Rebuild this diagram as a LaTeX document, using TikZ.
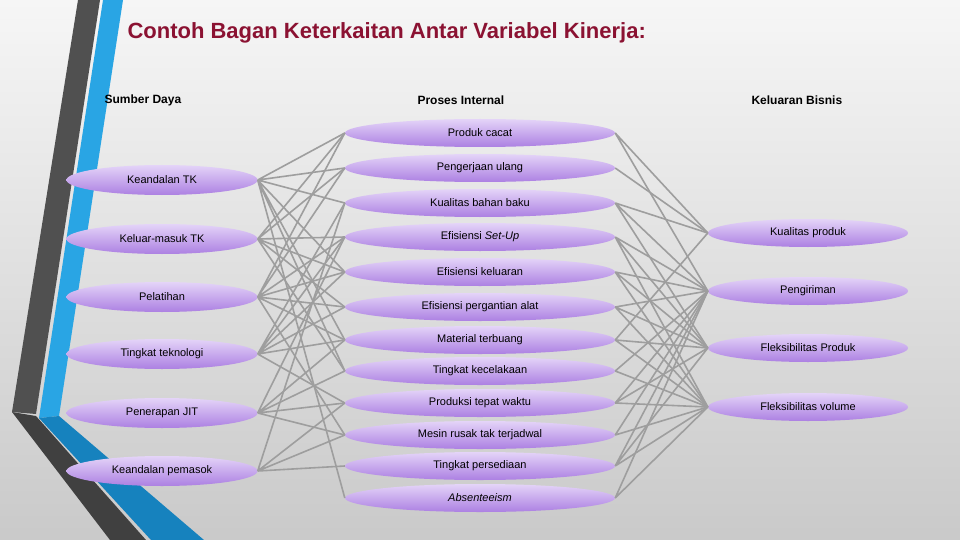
\documentclass[tikz,border=0pt]{standalone}
\usepackage{fontspec}
\setmainfont{Liberation Sans}
\usepackage{tikz}
\usetikzlibrary{shapes.geometric}
\definecolor{judul}{RGB}{139,18,50}
\definecolor{ungumuda}{RGB}{228,212,248}
\definecolor{ungutua}{RGB}{172,128,226}
\definecolor{garis}{RGB}{158,158,158}
\definecolor{abutua}{RGB}{80,80,80}
\definecolor{birumuda}{RGB}{41,165,228}
\definecolor{birutua}{RGB}{22,130,190}
\tikzstyle{sumber} = [ellipse, minimum width=191pt, minimum height=30pt, inner sep=0pt, top color=ungumuda, bottom color=ungutua, font=\fontsize{11}{13}\selectfont]
\tikzstyle{proses} = [ellipse, minimum width=270pt, minimum height=28pt, inner sep=0pt, top color=ungumuda, bottom color=ungutua, font=\fontsize{11}{13}\selectfont]
\tikzstyle{keluaran} = [ellipse, minimum width=200pt, minimum height=28pt, inner sep=0pt, top color=ungumuda, bottom color=ungutua, font=\fontsize{11}{13}\selectfont]
\tikzstyle{kepala} = [anchor=west, font=\bfseries\fontsize{12}{14}\selectfont]
\tikzstyle{link} = [draw=garis, line width=1.6pt]

\begin{document}
\begin{tikzpicture}[x=1pt, y=-1pt]
\useasboundingbox (0,0) rectangle (960,540);

%% BACKGROUND

\shade [top color=white!93!gray, bottom color=gray!42] (0,0) rectangle (960,540);
\fill [abutua] (78,0) -- (100,0) -- (36,414) -- (12,412) -- cycle;
\fill [abutua!80!black] (12,412) -- (36,416) -- (146,540) -- (110,540) -- cycle;
\fill [birumuda] (103,0) -- (123,0) -- (59,416) -- (39,418) -- cycle;
\fill [birutua] (39,418) -- (59,416) -- (204,540) -- (151,540) -- cycle;

%% TITLE AND HEADERS

\node (judul) [anchor=west, text=judul, font=\bfseries\fontsize{22}{26}\selectfont] at (124,33) {Contoh Bagan Keterkaitan Antar Variabel Kinerja:};
\node (h1) [kepala] at (101,100) {Sumber Daya};
\node (h2) [kepala] at (414,100) {Proses Internal};
\node (h3) [kepala] at (748,100) {Keluaran Bisnis};

%% NODES

\node (sd1) [sumber] at (162,180) {Keandalan TK};
\node (sd2) [sumber, below of=sd1, node distance=59pt] {Keluar-masuk TK};
\node (sd3) [sumber, below of=sd2, node distance=58pt] {Pelatihan};
\node (sd4) [sumber, below of=sd3, node distance=57pt] {Tingkat teknologi};
\node (sd5) [sumber, below of=sd4, node distance=59pt] {Penerapan JIT};
\node (sd6) [sumber, below of=sd5, node distance=58pt] {Keandalan pemasok};

\node (pi1) [proses] at (480,133) {Produk cacat};
\node (pi2) [proses, below of=pi1, node distance=35pt] {Pengerjaan ulang};
\node (pi3) [proses, below of=pi2, node distance=35pt] {Kualitas bahan baku};
\node (pi4) [proses, below of=pi3, node distance=34pt] {Efisiensi \textit{Set-Up}};
\node (pi5) [proses, below of=pi4, node distance=35pt] {Efisiensi keluaran};
\node (pi6) [proses, below of=pi5, node distance=35pt] {Efisiensi pergantian alat};
\node (pi7) [proses, below of=pi6, node distance=33pt] {Material terbuang};
\node (pi8) [proses, below of=pi7, node distance=31pt] {Tingkat kecelakaan};
\node (pi9) [proses, below of=pi8, node distance=32pt] {Produksi tepat waktu};
\node (pi10) [proses, below of=pi9, node distance=32pt] {Mesin rusak tak terjadwal};
\node (pi11) [proses, below of=pi10, node distance=31pt] {Tingkat persediaan};
\node (pi12) [proses, below of=pi11, node distance=32pt] {\textit{Absenteeism}};

\node (kb1) [keluaran] at (808,233) {Kualitas produk};
\node (kb2) [keluaran, below of=kb1, node distance=58pt] {Pengiriman};
\node (kb3) [keluaran, below of=kb2, node distance=57pt] {Fleksibilitas Produk};
\node (kb4) [keluaran, below of=kb3, node distance=59pt] {Fleksibilitas volume};

%% LINKS

\draw [link] (sd1.east) -- (pi1.west) (sd1.east) -- (pi2.west) (sd1.east) -- (pi3.west) (sd1.east) -- (pi5.west) (sd1.east) -- (pi7.west) (sd1.east) -- (pi8.west) (sd1.east) -- (pi12.west);
\draw [link] (sd2.east) -- (pi1.west) (sd2.east) -- (pi2.west) (sd2.east) -- (pi4.west) (sd2.east) -- (pi5.west) (sd2.east) -- (pi6.west) (sd2.east) -- (pi8.west);
\draw [link] (sd3.east) -- (pi1.west) (sd3.east) -- (pi2.west) (sd3.east) -- (pi4.west) (sd3.east) -- (pi5.west) (sd3.east) -- (pi6.west) (sd3.east) -- (pi7.west) (sd3.east) -- (pi10.west);
\draw [link] (sd4.east) -- (pi3.west) (sd4.east) -- (pi4.west) (sd4.east) -- (pi5.west) (sd4.east) -- (pi6.west) (sd4.east) -- (pi7.west) (sd4.east) -- (pi9.west);
\draw [link] (sd5.east) -- (pi4.west) (sd5.east) -- (pi7.west) (sd5.east) -- (pi8.west) (sd5.east) -- (pi9.west) (sd5.east) -- (pi10.west);
\draw [link] (sd6.east) -- (pi3.west) (sd6.east) -- (pi9.west) (sd6.east) -- (pi10.west) (sd6.east) -- (pi11.west);

\draw [link] (pi1.east) -- (kb1.west) (pi1.east) -- (kb2.west);
\draw [link] (pi2.east) -- (kb1.west);
\draw [link] (pi3.east) -- (kb1.west) (pi3.east) -- (kb2.west) (pi3.east) -- (kb3.west);
\draw [link] (pi4.east) -- (kb2.west) (pi4.east) -- (kb3.west) (pi4.east) -- (kb4.west);
\draw [link] (pi5.east) -- (kb2.west) (pi5.east) -- (kb3.west) (pi5.east) -- (kb4.west);
\draw [link] (pi6.east) -- (kb2.west) (pi6.east) -- (kb3.west) (pi6.east) -- (kb4.west);
\draw [link] (pi7.east) -- (kb1.west) (pi7.east) -- (kb3.west) (pi7.east) -- (kb4.west);
\draw [link] (pi8.east) -- (kb2.west) (pi8.east) -- (kb4.west);
\draw [link] (pi9.east) -- (kb2.west) (pi9.east) -- (kb3.west) (pi9.east) -- (kb4.west);
\draw [link] (pi10.east) -- (kb2.west) (pi10.east) -- (kb4.west);
\draw [link] (pi11.east) -- (kb2.west) (pi11.east) -- (kb3.west) (pi11.east) -- (kb4.west);
\draw [link] (pi12.east) -- (kb2.west) (pi12.east) -- (kb4.west);

\end{tikzpicture}
\end{document}
